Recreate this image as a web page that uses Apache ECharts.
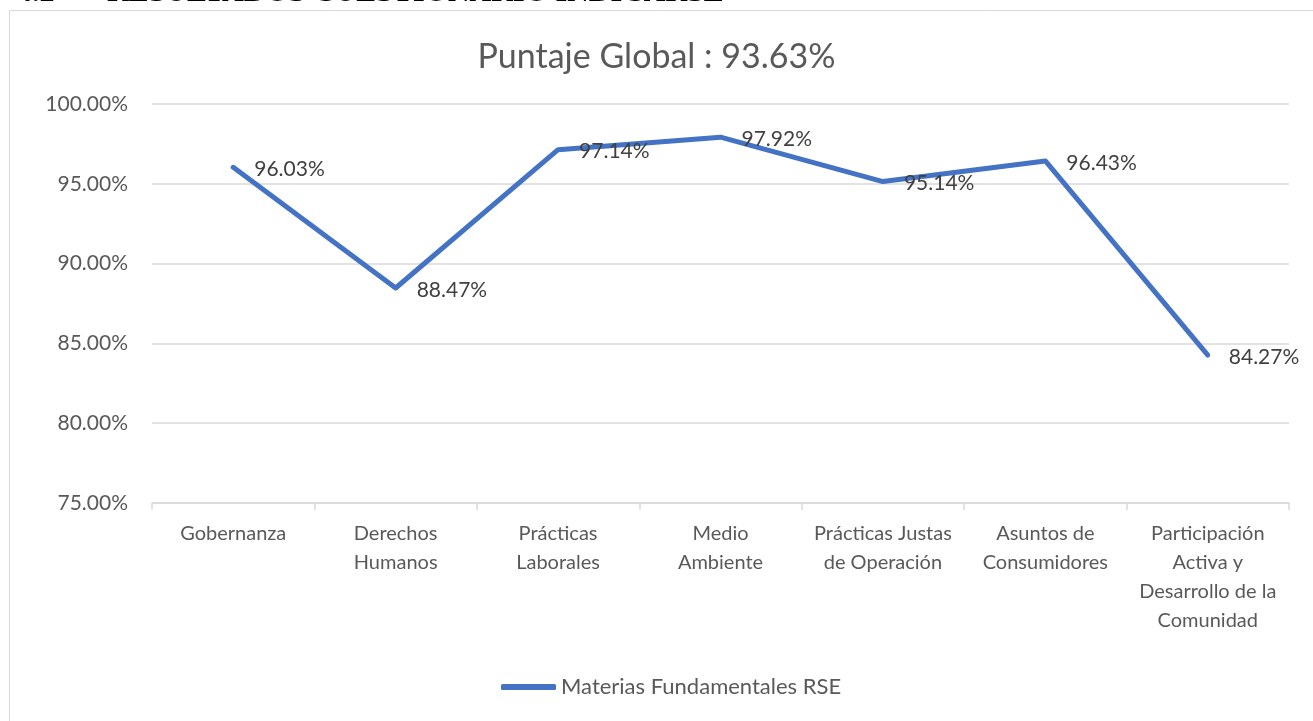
<!DOCTYPE html>
<html>
<head>
<meta charset="utf-8">
<script src="https://cdn.jsdelivr.net/npm/echarts@6/dist/echarts.min.js"></script>
<style>
  html, body { margin: 0; padding: 0; background: #fff; }
  #chart { width: 1313px; height: 721px; }
</style>
</head>
<body>
<div id="chart"></div>
<script>
// data
var categories = [
  'Gobernanza',
  'Derechos\nHumanos',
  'Prácticas\nLaborales',
  'Medio\nAmbiente',
  'Prácticas Justas\nde Operación',
  'Asuntos de\nConsumidores',
  'Participación\nActiva y\nDesarrollo de la\nComunidad'
];
var scores = [96.03, 88.47, 97.14, 97.92, 95.14, 96.43, 84.27];
var seriesName = 'Materias Fundamentales RSE';
var chartTitle = 'Puntaje Global : 93.63%';
var headerText = '4.2       RESULTADOS CUESTIONARIO INDICARSE';

var font = 'Lato';
var pct = function (v) { return Number(v).toFixed(2) + '%'; };

var option = {
  animation: false,
  textStyle: { fontFamily: font },
  title: {
    text: chartTitle,
    left: 'center',
    top: 35,
    textStyle: { fontSize: 34, fontWeight: 'normal', color: '#595959', fontFamily: font }
  },
  graphic: [
    {
      type: 'rect',
      shape: { x: 9.5, y: 10.5, width: 1400, height: 800 },
      style: { fill: 'none', stroke: '#d9d9d9', lineWidth: 1 },
      silent: true
    },
    {
      type: 'text',
      left: 17,
      top: -22,
      style: {
        text: headerText,
        font: 'bold 30px "Liberation Serif"',
        fill: '#000'
      },
      silent: true
    }
  ],
  grid: { left: 152, right: 24, top: 104, bottom: 218, containLabel: false },
  legend: {
    bottom: 18,
    left: 496,
    icon: 'roundRect',
    itemWidth: 55,
    itemHeight: 6,
    itemGap: 5,
    textStyle: { fontSize: 22, color: '#595959', fontFamily: font },
    data: [seriesName]
  },
  xAxis: {
    type: 'category',
    data: categories,
    boundaryGap: true,
    axisLine: { show: true, lineStyle: { color: '#d9d9d9', width: 1.5 } },
    axisTick: { show: true, length: 7, lineStyle: { color: '#d9d9d9', width: 1.5 } },
    axisLabel: {
      color: '#595959',
      fontSize: 20,
      lineHeight: 29,
      margin: 16,
      interval: 0,
      fontFamily: font
    }
  },
  yAxis: {
    type: 'value',
    min: 75,
    max: 100,
    interval: 5,
    axisLine: { show: false },
    axisTick: { show: false },
    splitLine: { lineStyle: { color: '#d9d9d9', width: 1.5 } },
    axisLabel: {
      color: '#595959',
      fontSize: 21,
      margin: 24,
      fontFamily: font,
      formatter: pct
    }
  },
  series: [{
    name: seriesName,
    type: 'line',
    data: scores,
    symbol: 'circle',
    symbolSize: 0,
    showSymbol: true,
    lineStyle: { color: '#4472c4', width: 5, cap: 'round', join: 'round' },
    itemStyle: { color: '#4472c4' },
    label: {
      show: true,
      position: 'right',
      distance: 21,
      offset: [0, 2],
      color: '#404040',
      fontSize: 21,
      fontFamily: font,
      formatter: function (p) { return pct(p.value); }
    }
  }]
};

var chart = echarts.init(document.getElementById('chart'));
chart.setOption(option);
</script>
</body>
</html>
